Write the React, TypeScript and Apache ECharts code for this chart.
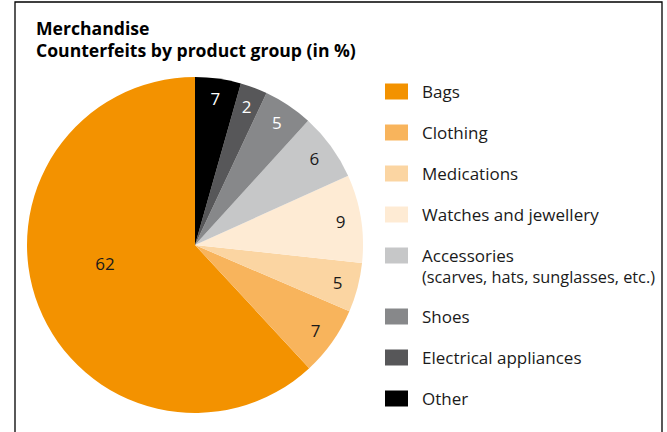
import React, { useEffect, useRef } from "react";
import * as echarts from "echarts";

const categories = [
  "Bags",
  "Clothing",
  "Medications",
  "Watches and jewellery",
  "Accessories",
  "Shoes",
  "Electrical appliances",
  "Other",
];
const shares = [61.9, 6.65, 4.75, 8.45, 6.5, 4.75, 2.6, 4.4];
// printed labels (in %)
const labels = ["62", "7", "5", "9", "6", "5", "2", "7"];
const colors = ["#F39200", "#F8B45C", "#FBD5A2", "#FEEBD4", "#C6C7C8", "#87888A", "#575759", "#000000"];
const labelColors = ["#1a1a1a", "#1a1a1a", "#1a1a1a", "#1a1a1a", "#1a1a1a", "#ffffff", "#ffffff", "#ffffff"];
const title = "Merchandise\nCounterfeits by product group (in %)";
const accessoriesNote = "(scarves, hats, sunglasses, etc.)";

const FONT = "'Open Sans', 'Noto Sans', sans-serif";

export default function App() {
  const ref = useRef<HTMLDivElement>(null);
  useEffect(() => {
    if (!ref.current) return;
    const chart = echarts.init(ref.current, null, { renderer: "svg" });
    const R = 168;
    const legendCommon = {
      orient: "vertical" as const,
      left: 385,
      padding: 0,
      icon: "rect",
      itemWidth: 23,
      itemHeight: 16,
      itemGap: 24,
      selectedMode: false,
      textStyle: {
        fontFamily: FONT,
        fontSize: 17,
        color: "#1a1a1a",
        lineHeight: 16,
        padding: [0, 0, 0, 9],
      },
    };
    chart.setOption({
      animation: false,
      title: {
        text: title,
        left: 36,
        top: 17,
        padding: 0,
        textStyle: {
          fontFamily: FONT,
          fontSize: 17.6,
          fontWeight: "bold",
          color: "#000",
          lineHeight: 22,
        },
      },
      legend: [
        { ...legendCommon, top: 83, data: categories.slice(0, 5) },
        { ...legendCommon, top: 308, data: categories.slice(5) },
      ],
      graphic: [
        {
          type: "rect",
          shape: { x: 15, y: 2, width: 647, height: 460 },
          style: { fill: "none", stroke: "#000", lineWidth: 1.3 },
          silent: true,
        },
        {
          type: "text",
          left: 422,
          top: 268,
          style: {
            text: accessoriesNote,
            fontFamily: FONT,
            fontSize: 16.3,
            lineHeight: 18,
            fill: "#1a1a1a",
          },
          silent: true,
        },
      ],
      series: [
        {
          type: "pie",
          center: [195, 245],
          radius: [0, R],
          startAngle: 90,
          clockwise: false,
          silent: true,
          labelLine: { show: false },
          data: categories.map((name, i) => ({
            name,
            value: shares[i],
            itemStyle: { color: colors[i] },
            label:
              i === 0
                ? {
                    show: true,
                    position: "inside",
                    formatter: labels[i],
                    color: labelColors[i],
                    fontFamily: FONT,
                    fontSize: 17,
                    offset: [-9, -13],
                  }
                : { show: false },
          })),
        },
        {
          type: "pie",
          name: "labels",
          center: [195, 245],
          radius: [121, R],
          startAngle: 90,
          clockwise: false,
          silent: true,
          labelLine: { show: false },
          itemStyle: { color: "rgba(0,0,0,0)" },
          data: categories.map((name, i) => ({
            name,
            value: shares[i],
            label:
              i === 0
                ? { show: false }
                : {
                    show: true,
                    position: "inside",
                    formatter: labels[i],
                    color: labelColors[i],
                    fontFamily: FONT,
                    fontSize: 17,
                  },
          })),
        },
      ],
    });
    return () => chart.dispose();
  }, []);
  return (
    <div style={{ position: "fixed", left: 0, top: 0, width: 667, height: 432, background: "#fff" }}>
      <div ref={ref} style={{ width: 667, height: 432 }} />
    </div>
  );
}
